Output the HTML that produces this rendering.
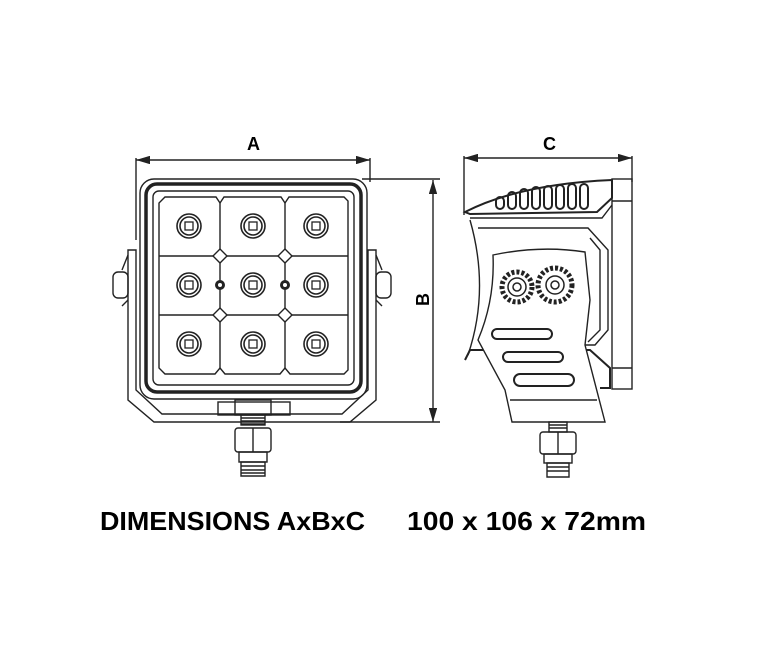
<!DOCTYPE html>
<html><head><style>
html,body{margin:0;padding:0;background:#fff;}
svg{display:block}
text{font-family:"Liberation Sans",sans-serif;font-weight:bold;fill:#000}
</style></head><body>
<svg width="780" height="662" viewBox="0 0 780 662" xmlns="http://www.w3.org/2000/svg">
<defs>
<marker id="ar" viewBox="0 0 10 6" refX="10" refY="3" markerWidth="10" markerHeight="6" orient="auto-start-reverse"><path d="M0,0L10,3L0,6z" fill="#222"/></marker>
<g id="led"><circle r="12" fill="none" stroke="#222" stroke-width="1.6"/><circle r="9" fill="none" stroke="#222" stroke-width="1.6"/><rect x="-4" y="-4" width="8" height="8" fill="none" stroke="#222" stroke-width="1.3"/></g>
</defs>
<g fill="none" stroke="#222" stroke-width="1.4">
<line x1="136" y1="160" x2="370" y2="160" marker-start="url(#ar)" marker-end="url(#ar)"/>
<line x1="136" y1="158" x2="136" y2="240"/>
<line x1="370" y1="158" x2="370" y2="182"/>
<line x1="433" y1="180" x2="433" y2="422" marker-start="url(#ar)" marker-end="url(#ar)"/>
<line x1="362" y1="179" x2="440" y2="179"/>
<line x1="340" y1="422" x2="440" y2="422"/>
<path d="M128,250 L136,250 L136,390 L162,414 L342,414 L368,390 L368,250 L376,250 L376,400 L350,422 L154,422 L128,400 Z"/>
<rect x="113" y="272" width="15" height="26" rx="5"/>
<rect x="376" y="272" width="15" height="26" rx="5"/>
<path d="M128,255 L122,270 M128,300 L122,306 M376,255 L382,270 M376,300 L382,306"/>
<rect x="140" y="179" width="227" height="220" rx="14"/>
<rect x="146" y="184" width="215" height="208" rx="11" stroke-width="3.5"/>
<rect x="153" y="191" width="201" height="194" rx="6"/>
<path d="M165,197 L216,197 L220,203 L224,197 L281,197 L285,203 L289,197 L344,197 L348,201 L348,370 L344,374 L290,374 L285,368 L280,374 L225,374 L220,368 L215,374 L165,374 L159,368 L159,203 Z"/>
<line x1="220" y1="203" x2="220" y2="368"/>
<line x1="285" y1="203" x2="285" y2="368"/>
<line x1="159" y1="256" x2="348" y2="256"/>
<line x1="159" y1="315" x2="348" y2="315"/>
<path d="M220,249 L227,256 L220,263 L213,256Z M285,249 L292,256 L285,263 L278,256Z M220,308 L227,315 L220,322 L213,315Z M285,308 L292,315 L285,322 L278,315Z" fill="#fff"/>
<rect x="218" y="402" width="72" height="13"/>
<rect x="235" y="400" width="36" height="15"/>
<rect x="241" y="415" width="24" height="10"/>
<path d="M241,418 h24 M241,421 h24 M241,424 h24"/>
<rect x="235" y="428" width="36" height="24" rx="3"/>
<line x1="253" y1="428" x2="253" y2="452"/>
<rect x="239" y="452" width="28" height="10"/>
<path d="M241,462 h24 v14 h-24z M241,466 h24 M241,470 h24 M241,473 h24"/>
<line x1="464" y1="158" x2="632" y2="158" marker-start="url(#ar)" marker-end="url(#ar)"/>
<line x1="464" y1="156" x2="464" y2="215"/>
<line x1="632" y1="156" x2="632" y2="182"/>
<rect x="612" y="179" width="20" height="210"/>
<line x1="612" y1="201" x2="632" y2="201"/><line x1="612" y1="368" x2="632" y2="368"/>
<path d="M465,212 Q520,184 612,180 L612,198 L597,212 L470,214 Z" stroke-width="2"/>
<path d="M470,218 L602,218 L612,205"/>
<g stroke-width="2"><rect x="496" y="197" width="8" height="12" rx="4"/><rect x="508" y="192" width="8" height="17" rx="4"/><rect x="520" y="189" width="8" height="20" rx="4"/><rect x="532" y="187" width="8" height="22" rx="4"/><rect x="544" y="186" width="8" height="23" rx="4"/><rect x="556" y="185" width="8" height="24" rx="4"/><rect x="568" y="184" width="8" height="25" rx="4"/><rect x="580" y="184" width="8" height="25" rx="4"/></g>
<path d="M478,228 L588,228 L608,250 L608,330 L595,345 L580,345"/>
<path d="M590,238 L600,250 L600,330 L588,342"/>
<path d="M465,360 L470,350 L590,350 L610,368 L610,388 L600,388" stroke-width="2"/>
<path d="M470,220 Q490,290 468,355"/>
<path d="M493,255 Q540,245 585,252 L590,300 L585,345 L605,422 L512,422 L505,390 L478,340 Q495,300 493,255 Z" fill="#fff"/>
<g stroke-width="1.5">
<circle cx="517" cy="287" r="15" stroke-dasharray="3 2" stroke-width="5"/><circle cx="517" cy="287" r="9" fill="#fff"/><circle cx="517" cy="287" r="4"/>
<circle cx="555" cy="285" r="17" stroke-dasharray="3 2" stroke-width="5"/><circle cx="555" cy="285" r="9" fill="#fff"/><circle cx="555" cy="285" r="4"/>
</g>
<rect x="492" y="329" width="60" height="10" rx="5" stroke-width="2"/>
<rect x="503" y="352" width="60" height="10" rx="5" stroke-width="2"/>
<rect x="514" y="374" width="60" height="12" rx="6" stroke-width="2"/>
<line x1="510" y1="400" x2="597" y2="400"/>
<rect x="549" y="422" width="18" height="10"/>
<path d="M549,425 h18 M549,428 h18"/>
<rect x="540" y="432" width="36" height="22" rx="3"/>
<line x1="558" y1="432" x2="558" y2="454"/>
<rect x="544" y="454" width="28" height="9"/>
<path d="M547,463 h22 v14 h-22z M547,467 h22 M547,471 h22"/>
</g>
<g fill="#222">
<circle cx="220" cy="285" r="5"/><circle cx="285" cy="285" r="5"/>
</g>
<circle cx="220" cy="285" r="2" fill="#fff"/><circle cx="285" cy="285" r="2" fill="#fff"/>
<use href="#led" x="189" y="226"/><use href="#led" x="253" y="226"/><use href="#led" x="316" y="226"/>
<use href="#led" x="189" y="285"/><use href="#led" x="253" y="285"/><use href="#led" x="316" y="285"/>
<use href="#led" x="189" y="344"/><use href="#led" x="253" y="344"/><use href="#led" x="316" y="344"/>
<text x="247" y="150" font-size="18">A</text>
<text x="543" y="150" font-size="18">C</text>
<text x="0" y="0" font-size="18" transform="translate(429,306) rotate(-90)">B</text>
<text x="100" y="530" font-size="26" textLength="265" lengthAdjust="spacingAndGlyphs">DIMENSIONS AxBxC</text>
<text x="407" y="530" font-size="26" textLength="239" lengthAdjust="spacingAndGlyphs">100 x 106 x 72mm</text>
</svg>
</body></html>
